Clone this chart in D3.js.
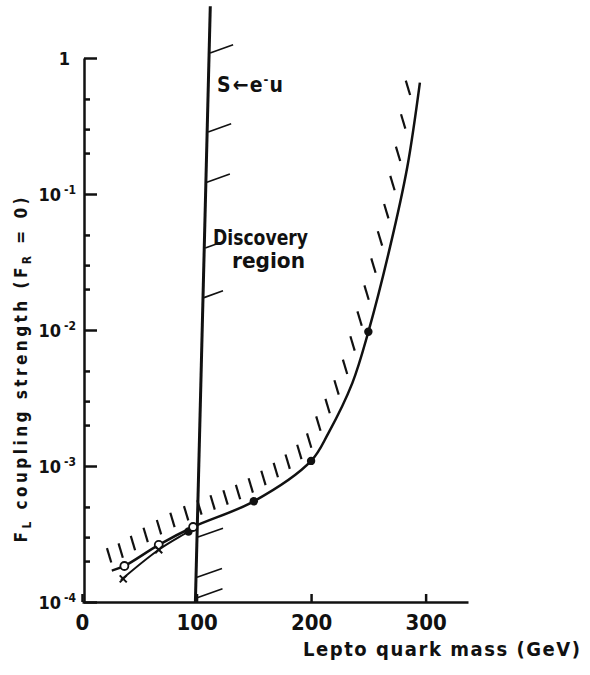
<!DOCTYPE html>
<html><head><meta charset="utf-8">
<script src="https://cdn.jsdelivr.net/npm/d3@7"></script>
<style>
body{margin:0;background:#fff;}
svg{display:block;background:#fff;}
text{font-family:"Liberation Sans Narrow","DejaVu Sans Condensed","Liberation Sans",sans-serif;font-weight:bold;fill:#111;}
</style></head><body>
<svg id="c" width="590" height="675"></svg>
<script>
// ---- data ----
const xTickValues = [0, 100, 200, 300];
const xTickLabels = ["0", "100", "200", "300"];
const yMajor = [1, 1e-1, 1e-2, 1e-3, 1e-4];
const yTickBase = ["1", "10", "10", "10", "10"];
const yTickSup = ["", "-1", "-2", "-3", "-4"];
const yMinor = [0.5, 0.3, 0.2, 0.05, 0.03, 0.02, 0.005, 0.003, 0.002, 0.0005, 0.0003, 0.0002];

// main limit curve (GeV, coupling)
const mainMass = [26, 37, 67, 97, 150, 200, 215, 236, 250, 269, 284, 295];
const mainCoupling = [1.7e-4, 1.84e-4, 2.63e-4, 3.56e-4, 5.5e-4, 1.09e-3, 1.74e-3, 4.07e-3, 9.7e-3, 0.041, 0.158, 0.66];
// lower branch (crosses)
const crossLineMass = [34, 67, 93, 100];
const crossLineCoupling = [1.45e-4, 2.42e-4, 3.3e-4, 3.62e-4];
const crossMass = [36, 67];
const crossCoupling = [1.48e-4, 2.42e-4];
// open circles
const openMass = [37, 67, 97];
const openCoupling = [1.84e-4, 2.63e-4, 3.56e-4];
// solid points
const solidMass = [93, 150, 200, 250];
const solidCoupling = [3.3e-4, 5.5e-4, 1.09e-3, 9.7e-3];
// S <- e-u kinematic limit line
const sLineMass = [99, 112];
const sLineCoupling = [1e-4, 2.4];
const sHatchCoupling = [1.09, 0.286, 0.122, 0.04, 0.0173, 3.0e-4, 1.52e-4, 1.07e-4];
const sHatchLen = [24, 24, 24, 15, 20, 26, 26, 27];

// ---- chart ----
const svg = d3.select("#c");
const x = d3.scaleLinear().domain([0, 337]).range([82, 468]);
const y = d3.scaleLog().domain([1e-4, 1]).range([602, 58]);
const axisX = x(0) + 2;
const ink = "#111";

// y axis
const gy = svg.append("g").attr("transform", `translate(${axisX},0)`);
gy.call(d3.axisRight(y).tickValues(yMajor).tickSize(13).tickSizeOuter(0).tickFormat(""));
gy.append("g").call(d3.axisRight(y).tickValues(yMinor).tickSize(6).tickSizeOuter(0).tickFormat(""))
  .call(g => g.select(".domain").remove());
gy.selectAll("path,line").attr("stroke", ink).attr("stroke-width", 2.5);

const yl = svg.append("g");
yMajor.forEach((v, i) => {
  const t = yl.append("text")
    .attr("x", yTickSup[i] ? axisX - 8 : axisX - 14)
    .attr("y", y(v) + 6.5)
    .attr("text-anchor", "end")
    .attr("font-size", 18);
  t.append("tspan").text(yTickBase[i]);
  if (yTickSup[i]) t.append("tspan").attr("font-size", 12).attr("dx", 3).attr("dy", -7).text(yTickSup[i]);
});

// x axis
const gx = svg.append("g").attr("transform", `translate(0,${y(1e-4)})`)
  .call(d3.axisBottom(x).tickValues(xTickValues).tickSizeInner(-8).tickSizeOuter(0)
    .tickPadding(12).tickFormat((d, i) => xTickLabels[i]));
gx.selectAll("path,line").attr("stroke", ink).attr("stroke-width", 2.5);
gx.selectAll("text").attr("font-size", 22);

// axis titles
svg.append("text").attr("x", 303).attr("y", 656).attr("font-size", 20)
  .attr("textLength", 277).attr("lengthAdjust", "spacing")
  .text("Lepto quark mass (GeV)");

const yt = svg.append("text").attr("transform", "translate(27,370) rotate(-90)")
  .attr("text-anchor", "middle").attr("font-size", 17)
  .attr("textLength", 345).attr("lengthAdjust", "spacing");
yt.append("tspan").text("F");
yt.append("tspan").attr("font-size", 12).attr("dy", 4).text("L");
yt.append("tspan").attr("dy", -4).text(" coupling strength (F");
yt.append("tspan").attr("font-size", 12).attr("dy", 4).text("R");
yt.append("tspan").attr("dy", -4).text(" = 0)");

const line = d3.line().x(d => x(d[0])).y(d => y(d[1])).curve(d3.curveCatmullRom.alpha(0.5));
const zip = (a, b) => a.map((v, i) => [v, b[i]]);

// S line
const sPts = zip(sLineMass, sLineCoupling);
svg.append("path").attr("d", d3.line().x(d => x(d[0])).y(d => y(d[1]))(sPts))
  .attr("fill", "none").attr("stroke", ink).attr("stroke-width", 3);
const sx0 = x(sLineMass[0]), sy0 = y(sLineCoupling[0]), sx1 = x(sLineMass[1]), sy1 = y(sLineCoupling[1]);
sHatchCoupling.forEach((c, i) => {
  const py = y(c);
  const px = sx0 + (sx1 - sx0) * (py - sy0) / (sy1 - sy0);
  const L = sHatchLen[i];
  svg.append("line").attr("x1", px + 1).attr("y1", py).attr("x2", px + L).attr("y2", py - L * 0.34)
    .attr("stroke", ink).attr("stroke-width", 1.6);
});

// main curve
const mainPath = svg.append("path").attr("d", line(zip(mainMass, mainCoupling)))
  .attr("fill", "none").attr("stroke", ink).attr("stroke-width", 2.5);
// cross branch
svg.append("path").attr("d", line(zip(crossLineMass, crossLineCoupling)))
  .attr("fill", "none").attr("stroke", ink).attr("stroke-width", 2);

// hatching along main curve (upper-left side)
(function () {
  const node = mainPath.node();
  const total = node.getTotalLength();
  let acc = 100, prev = node.getPointAtLength(0);
  const dir = (() => { const a = -0.3, b = -1, n = Math.hypot(a, b); return [a / n, b / n]; })();
  const g = svg.append("g");
  for (let s = 2; s < total - 3; s += 1) {
    const p = node.getPointAtLength(s);
    acc += Math.abs(p.x - prev.x) + 0.3 * Math.abs(p.y - prev.y);
    prev = p;
    if (acc >= 14.5) {
      acc = 0;
      const q = node.getPointAtLength(Math.min(total, s + 1)), r = node.getPointAtLength(Math.max(0, s - 1));
      let tx = q.x - r.x, ty = q.y - r.y; const tn = Math.hypot(tx, ty); tx /= tn; ty /= tn;
      const nx = ty, ny = -tx;
      const bx = p.x + nx * 8, by = p.y + ny * 8;
      g.append("line").attr("x1", bx).attr("y1", by)
        .attr("x2", bx + dir[0] * 15).attr("y2", by + dir[1] * 15)
        .attr("stroke", ink).attr("stroke-width", 2.2);
    }
  }
})();

// markers
svg.append("g").selectAll("circle").data(zip(solidMass, solidCoupling)).join("circle")
  .attr("cx", d => x(d[0])).attr("cy", d => y(d[1])).attr("r", 4.2).attr("fill", ink);
svg.append("g").selectAll("circle").data(zip(openMass, openCoupling)).join("circle")
  .attr("cx", d => x(d[0])).attr("cy", d => y(d[1])).attr("r", 4).attr("fill", "#fff")
  .attr("stroke", ink).attr("stroke-width", 1.8);
svg.append("g").selectAll("path").data(zip(crossMass, crossCoupling)).join("path")
  .attr("d", d => { const cx = x(d[0]), cy = y(d[1]), s = 3.5;
    return `M${cx - s},${cy - s}L${cx + s},${cy + s}M${cx - s},${cy + s}L${cx + s},${cy - s}`; })
  .attr("stroke", ink).attr("stroke-width", 2);

// annotations
const st = svg.append("text").attr("x", 217).attr("y", 92).attr("font-size", 21)
  .attr("textLength", 66).attr("lengthAdjust", "spacing");
st.append("tspan").text("S");
st.append("tspan").attr("dx", 1).text("\u2190");
st.append("tspan").text("e");
st.append("tspan").attr("font-size", 13).attr("dy", -8).text("-");
st.append("tspan").attr("dy", 8).text("u");
svg.append("text").attr("x", 213).attr("y", 245).attr("font-size", 21)
  .attr("textLength", 95).attr("lengthAdjust", "spacingAndGlyphs").text("Discovery");
svg.append("text").attr("x", 232).attr("y", 268).attr("font-size", 21)
  .attr("textLength", 73).attr("lengthAdjust", "spacingAndGlyphs").text("region");
</script>
</body></html>
